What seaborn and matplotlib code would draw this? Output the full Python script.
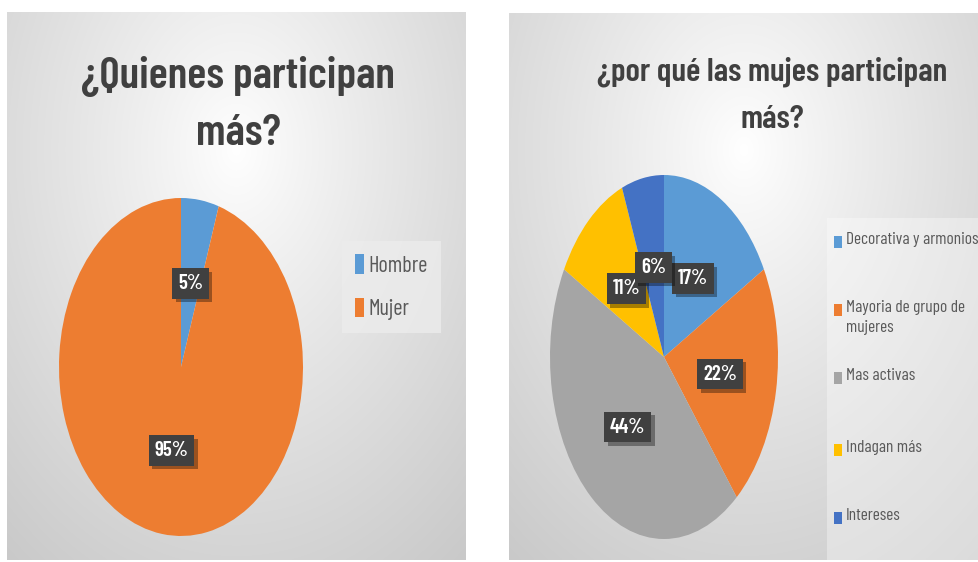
import numpy as np
import matplotlib
matplotlib.use("Agg")
import matplotlib.pyplot as plt
import matplotlib.patheffects as pe
from matplotlib import font_manager as fm
from matplotlib.patches import Rectangle
import seaborn as sns

# ---------------- data ----------------
left_title = "¿Quienes participan\nmás?"
left_labels = ["Hombre", "Mujer"]
left_values = [5, 95]
left_colors = ["#5B9BD5", "#ED7D31"]

right_title = "¿por qué las mujes participan\nmás?"
right_labels = ["Decorativa y armoniosa", "Mayoria de grupo de\nmujeres",
                "Mas activas", "Indagan más", "Intereses"]
right_values = [17, 22, 44, 11, 6]
right_colors = ["#5B9BD5", "#ED7D31", "#A5A5A5", "#FFC000", "#4472C4"]

# ---------------- style ----------------
sns.set_theme(style="white")
avail = {f.name for f in fm.fontManager.ttflist}
FONT = "DejaVu Sans"
for cand in ["Barlow Condensed", "Sofia Sans Condensed", "Saira Condensed", "PT Sans Narrow",
             "Archivo Narrow", "Roboto Condensed", "Fira Sans Condensed",
             "IBM Plex Sans Condensed"]:
    if cand in avail:
        FONT = cand
        break
plt.rcParams["font.family"] = [FONT, "DejaVu Sans"]

W, H = 979, 562
fig = plt.figure(figsize=(W / 100, H / 100), dpi=100)
fig.patch.set_facecolor("white")


def fr(x0, y0, x1, y1):
    return [x0 / W, 1 - y1 / H, (x1 - x0) / W, (y1 - y0) / H]


def panel_bg(box):
    ax = fig.add_axes(fr(*box), zorder=0)
    yy, xx = np.mgrid[0:1:300j, 0:1:300j]
    d = np.sqrt(((xx - 0.5) / 0.8) ** 2 + ((yy - 0.25) / 0.95) ** 2)
    v = 1.0 - 0.21 * np.clip(d, 0, 1) ** 0.9
    img = np.dstack([v, v, v])
    ax.imshow(img, extent=[0, 1, 1, 0], aspect="auto", interpolation="bilinear")
    ax.set_xlim(0, 1)
    ax.set_ylim(1, 0)
    ax.set_axis_off()
    return ax


def draw_pie(box, values, colors):
    ax = fig.add_axes(fr(*box), zorder=2)
    wedges, texts, autotexts = ax.pie(
        values, colors=colors, startangle=90, counterclock=False,
        autopct="%.0f%%", pctdistance=0.5, radius=1,
        wedgeprops=dict(linewidth=0),
        textprops=dict(color="white", fontsize=15, fontweight="semibold"))
    ax.set_aspect("auto")
    ax.set_xlim(-1, 1)
    ax.set_ylim(-1, 1)
    for t in autotexts:
        t.set_bbox(dict(boxstyle="square,pad=0.28", facecolor="#404040", edgecolor="none"))
        t.get_bbox_patch().set_path_effects(
            [pe.SimplePatchShadow(offset=(2.5, -2.5), shadow_rgbFace="black", alpha=0.35),
             pe.Normal()])
        t.set_zorder(4)
    return ax, wedges


# ---------------- left panel ----------------
panel_bg((7, 12, 466, 560))
axL, wL = draw_pie((59, 198, 303, 536), left_values, left_colors)
fig.text(238 / W, 1 - 145 / H, left_title, ha="center", va="baseline",
         multialignment="center", fontsize=32, fontweight="semibold",
         color="#404040", linespacing=1.55, zorder=5)
leg = fig.legend(wL, left_labels, loc="upper left",
                 bbox_to_anchor=(342 / W, 1 - 241 / H), borderaxespad=0,
                 frameon=True, facecolor="#ececec", edgecolor="none", fancybox=False,
                 framealpha=0.8, fontsize=16, handlelength=0.4, handleheight=0.95,
                 handletextpad=0.2, labelspacing=0.95, borderpad=0.6,
                 labelcolor="#595959")
leg.set_zorder(5)

# ---------------- right panel ----------------
panel_bg((509, 13, 979, 560))
axR, wR = draw_pie((550, 175, 778, 539), right_values, right_colors)
fig.text(772 / W, 1 - 128 / H, right_title, ha="center", va="baseline",
         multialignment="center", fontsize=24, fontweight="semibold",
         color="#404040", linespacing=1.8, zorder=5)

fig.patches.append(Rectangle((827 / W, 1 - 560 / H), (979 - 827) / W, (560 - 218) / H,
                             transform=fig.transFigure, facecolor="white", alpha=0.35,
                             edgecolor="none", zorder=1))
legend_y = [242, 310, 378, 450, 518]
for lab, col, yc in zip(right_labels, right_colors, legend_y):
    fig.patches.append(Rectangle((834 / W, 1 - (yc + 6) / H), 8 / W, 12 / H,
                                 transform=fig.transFigure, facecolor=col,
                                 edgecolor="none", zorder=5))
    fig.text(846 / W, 1 - (yc - 10) / H, lab, ha="left", va="top", fontsize=12.5,
             color="#595959", linespacing=1.4, zorder=5)

fig.savefig("out.png", dpi=100)
